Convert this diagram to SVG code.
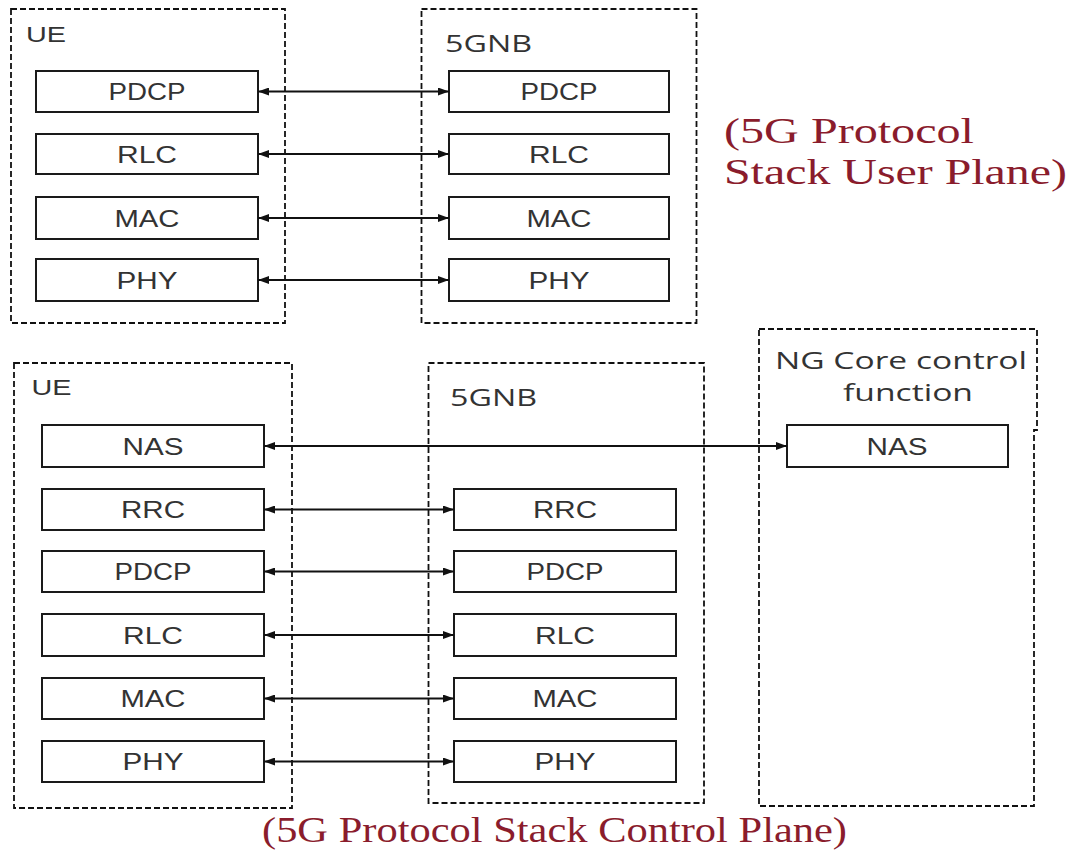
<svg xmlns="http://www.w3.org/2000/svg" width="1070" height="855" viewBox="0 0 1070 855">
<style>
.frame{fill:none;stroke:#111;stroke-width:1.8;stroke-dasharray:6 3}
.box{fill:#fff;stroke:#1a1a1a;stroke-width:2}
.lbl{font-family:"Liberation Sans",Arial,sans-serif;font-size:24px;fill:#333;text-anchor:middle}
.ttl{font-family:"Open Sans","Liberation Sans",sans-serif;font-size:23px;fill:#333}
.ue{font-family:"Liberation Sans",Arial,sans-serif;font-size:22px;fill:#333}
.cap{font-family:"Liberation Serif","Times New Roman",serif;fill:#8a1c2c}
.conn{stroke:#111;stroke-width:1.8;fill:none;marker-start:url(#ah);marker-end:url(#ah)}
</style>
<defs>
<marker id="ah" viewBox="0 0 11 8" refX="11" refY="4" markerWidth="11" markerHeight="8" markerUnits="userSpaceOnUse" orient="auto-start-reverse">
<path d="M0,0 L11,4 L0,8 z" fill="#111"/>
</marker>
</defs>
<rect width="1070" height="855" fill="#fff"/>

<!-- User plane -->
<g id="up-ue">
<rect class="frame" x="11" y="9" width="274" height="314"/>
<text class="ue" x="26" y="42" textLength="40" lengthAdjust="spacingAndGlyphs">UE</text>
</g>
<g id="up-ue-pdcp"><rect class="box" x="36" y="71" width="222" height="41"/><text class="lbl" x="147" y="100" textLength="77" lengthAdjust="spacingAndGlyphs">PDCP</text></g>
<g id="up-ue-rlc"><rect class="box" x="36" y="134" width="222" height="40"/><text class="lbl" x="147" y="162.5" textLength="60" lengthAdjust="spacingAndGlyphs">RLC</text></g>
<g id="up-ue-mac"><rect class="box" x="36" y="197" width="222" height="42"/><text class="lbl" x="147" y="226.5" textLength="65" lengthAdjust="spacingAndGlyphs">MAC</text></g>
<g id="up-ue-phy"><rect class="box" x="36" y="259" width="222" height="42"/><text class="lbl" x="147" y="288.5" textLength="61" lengthAdjust="spacingAndGlyphs">PHY</text></g>

<g id="up-gnb">
<rect class="frame" x="421.5" y="9" width="275" height="314"/>
<text class="ttl" x="445" y="52" textLength="87" lengthAdjust="spacingAndGlyphs">5GNB</text>
</g>
<g id="up-gnb-pdcp"><rect class="box" x="449" y="71" width="220" height="41"/><text class="lbl" x="559" y="100" textLength="77" lengthAdjust="spacingAndGlyphs">PDCP</text></g>
<g id="up-gnb-rlc"><rect class="box" x="449" y="134" width="220" height="40"/><text class="lbl" x="559" y="162.5" textLength="60" lengthAdjust="spacingAndGlyphs">RLC</text></g>
<g id="up-gnb-mac"><rect class="box" x="449" y="197" width="220" height="42"/><text class="lbl" x="559" y="226.5" textLength="65" lengthAdjust="spacingAndGlyphs">MAC</text></g>
<g id="up-gnb-phy"><rect class="box" x="449" y="259" width="220" height="42"/><text class="lbl" x="559" y="288.5" textLength="61" lengthAdjust="spacingAndGlyphs">PHY</text></g>

<g id="up-caption">
<text class="cap" font-size="35" x="724" y="143" textLength="250" lengthAdjust="spacingAndGlyphs">(5G Protocol</text>
<text class="cap" font-size="35" x="724" y="184" textLength="343" lengthAdjust="spacingAndGlyphs">Stack User Plane)</text>
</g>

<!-- Control plane -->
<g id="cp-ue">
<rect class="frame" x="14" y="363" width="278" height="445"/>
<text class="ue" x="31.5" y="395" textLength="40" lengthAdjust="spacingAndGlyphs">UE</text>
</g>
<g id="cp-ue-nas"><rect class="box" x="42" y="425" width="222" height="42"/><text class="lbl" x="153" y="454.5" textLength="61" lengthAdjust="spacingAndGlyphs">NAS</text></g>
<g id="cp-ue-rrc"><rect class="box" x="42" y="489" width="222" height="41"/><text class="lbl" x="153" y="518" textLength="64" lengthAdjust="spacingAndGlyphs">RRC</text></g>
<g id="cp-ue-pdcp"><rect class="box" x="42" y="551" width="222" height="41"/><text class="lbl" x="153" y="580" textLength="77" lengthAdjust="spacingAndGlyphs">PDCP</text></g>
<g id="cp-ue-rlc"><rect class="box" x="42" y="614" width="222" height="42"/><text class="lbl" x="153" y="643.5" textLength="60" lengthAdjust="spacingAndGlyphs">RLC</text></g>
<g id="cp-ue-mac"><rect class="box" x="42" y="678" width="222" height="41"/><text class="lbl" x="153" y="707" textLength="65" lengthAdjust="spacingAndGlyphs">MAC</text></g>
<g id="cp-ue-phy"><rect class="box" x="42" y="741" width="222" height="41"/><text class="lbl" x="153" y="770" textLength="61" lengthAdjust="spacingAndGlyphs">PHY</text></g>

<g id="cp-gnb">
<rect class="frame" x="428.5" y="363" width="275.5" height="440"/>
<text class="ttl" x="450" y="406" textLength="87" lengthAdjust="spacingAndGlyphs">5GNB</text>
</g>
<g id="cp-gnb-rrc"><rect class="box" x="454" y="489" width="222" height="41"/><text class="lbl" x="565" y="518" textLength="64" lengthAdjust="spacingAndGlyphs">RRC</text></g>
<g id="cp-gnb-pdcp"><rect class="box" x="454" y="551" width="222" height="41"/><text class="lbl" x="565" y="580" textLength="77" lengthAdjust="spacingAndGlyphs">PDCP</text></g>
<g id="cp-gnb-rlc"><rect class="box" x="454" y="614" width="222" height="42"/><text class="lbl" x="565" y="643.5" textLength="60" lengthAdjust="spacingAndGlyphs">RLC</text></g>
<g id="cp-gnb-mac"><rect class="box" x="454" y="678" width="222" height="41"/><text class="lbl" x="565" y="707" textLength="65" lengthAdjust="spacingAndGlyphs">MAC</text></g>
<g id="cp-gnb-phy"><rect class="box" x="454" y="741" width="222" height="41"/><text class="lbl" x="565" y="770" textLength="61" lengthAdjust="spacingAndGlyphs">PHY</text></g>

<g id="cp-ngcore">
<path class="frame" d="M759,329 H1037 V430 H1034 V806 H759 Z"/>
<text class="ttl" x="901" y="369" text-anchor="middle" textLength="252" lengthAdjust="spacingAndGlyphs">NG Core control</text>
<text class="ttl" x="908" y="401" text-anchor="middle" textLength="130" lengthAdjust="spacingAndGlyphs">function</text>
</g>
<g id="cp-ngcore-nas"><rect class="box" x="787" y="425" width="221" height="42"/><text class="lbl" x="897" y="454.5" textLength="61" lengthAdjust="spacingAndGlyphs">NAS</text></g>

<g id="cp-caption">
<text class="cap" font-size="35" x="262" y="842" textLength="585" lengthAdjust="spacingAndGlyphs">(5G Protocol Stack Control Plane)</text>
</g>

<!-- Connectors -->
<g id="connectors">
<line class="conn" x1="258" y1="91.5" x2="449" y2="91.5"/>
<line class="conn" x1="258" y1="154" x2="449" y2="154"/>
<line class="conn" x1="258" y1="218" x2="449" y2="218"/>
<line class="conn" x1="258" y1="280" x2="449" y2="280"/>
<line class="conn" x1="264" y1="446" x2="787" y2="446"/>
<line class="conn" x1="264" y1="509.5" x2="454" y2="509.5"/>
<line class="conn" x1="264" y1="571.5" x2="454" y2="571.5"/>
<line class="conn" x1="264" y1="635" x2="454" y2="635"/>
<line class="conn" x1="264" y1="698.5" x2="454" y2="698.5"/>
<line class="conn" x1="264" y1="761.5" x2="454" y2="761.5"/>
</g>
</svg>
